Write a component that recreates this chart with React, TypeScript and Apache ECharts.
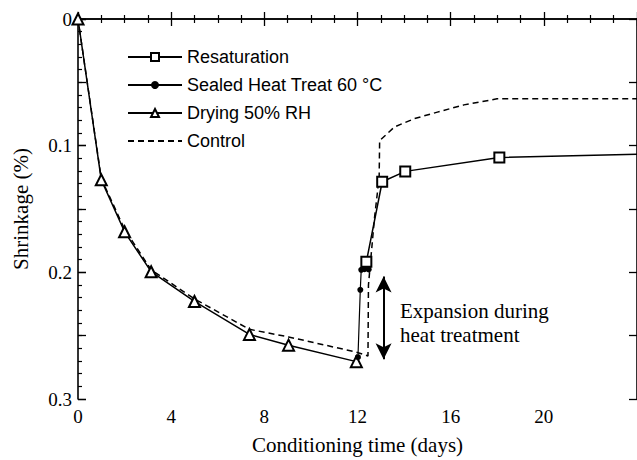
import React, { useEffect, useRef } from "react";
import * as echarts from "echarts";

const dryingDays = [0, 1, 2, 3.14, 5, 7.36, 9.04, 11.95];
const dryingShrink = [0, 0.127, 0.168, 0.1995, 0.223, 0.249, 0.2575, 0.2705];

const sealedDays = [12.02, 12.12, 12.16, 12.3, 12.48];
const sealedShrink = [0.267, 0.2138, 0.198, 0.1975, 0.1977];

const resatDays = [12.38, 13.06, 14.05, 18.09, 24];
const resatShrink = [0.1917, 0.1285, 0.1203, 0.1093, 0.1068];

const controlDays = [0, 1, 2, 3.14, 5, 7.36, 9.04, 11.95, 12.45, 12.47, 12.73, 12.93, 12.95, 13.59, 14.44, 15.43, 16.57, 17.99, 24];
const controlShrink = [0, 0.126, 0.166, 0.198, 0.221, 0.245, 0.251, 0.263, 0.266, 0.21, 0.157, 0.125, 0.096, 0.0852, 0.0787, 0.0735, 0.0678, 0.063, 0.063];

const arrowDay = 13.12;
const arrowFrom = 0.2032;
const arrowTo = 0.2687;

const seriesNames = ["Resaturation", "Sealed Heat Treat 60 °C", "Drying 50% RH", "Control"];
const xTicks = { min: 0, max: 24, step: 4 };
const yTicks = { min: 0, max: 0.3, step: 0.1 };

const serif = '"Liberation Serif", "Times New Roman", serif';
const sans = '"Liberation Sans", Arial, sans-serif';

const zip = (xs: number[], ys: number[]) => xs.map((x, i) => [x, ys[i]]);

export default function App() {
  const ref = useRef<HTMLDivElement>(null);
  useEffect(() => {
    if (!ref.current) return;
    const chart = echarts.init(ref.current, null, { renderer: "svg" });
    const axisLine = { show: true, lineStyle: { color: "#000", width: 1.6 } };
    const resatData: any[] = zip(resatDays, resatShrink).map((v, i) =>
      i === resatDays.length - 1 ? { value: v, symbol: "none" } : v
    );
    chart.setOption({
      animation: false,
      backgroundColor: "#fff",
      grid: { left: 78, top: 19, width: 563, height: 385 },
      legend: {
        orient: "vertical",
        left: 122,
        top: 43,
        itemWidth: 54,
        itemHeight: 10,
        itemGap: 10,
        data: [
          seriesNames[0],
          seriesNames[1],
          seriesNames[2],
          { name: seriesNames[3], itemStyle: { opacity: 0 } },
        ],
        textStyle: { fontFamily: sans, fontSize: 18, color: "#000" },
        selectedMode: false,
      },
      xAxis: [
        {
          type: "value",
          position: "bottom",
          min: xTicks.min,
          max: xTicks.max,
          interval: xTicks.step,
          axisLine,
          axisTick: { show: true, inside: true, length: 7, lineStyle: { color: "#000", width: 1.3 } },
          minorTick: { show: true, splitNumber: 4, length: 4, lineStyle: { color: "#000", width: 1.2 } },
          splitLine: { show: false },
          axisLabel: { showMaxLabel: false, fontFamily: serif, fontSize: 19, color: "#000", margin: 8 },
          name: "Conditioning time (days)",
          nameLocation: "middle",
          nameGap: 35,
          nameTextStyle: { fontFamily: serif, fontSize: 21, color: "#000" },
        },
        {
          type: "value",
          position: "top",
          min: xTicks.min,
          max: xTicks.max,
          interval: xTicks.step,
          axisLine,
          axisTick: { show: true, inside: true, length: 7, lineStyle: { color: "#000", width: 1.3 } },
          minorTick: { show: true, splitNumber: 4, length: 4, lineStyle: { color: "#000", width: 1.2 } },
          splitLine: { show: false },
          axisLabel: { show: false },
        },
      ],
      yAxis: [
        {
          type: "value",
          position: "left",
          inverse: true,
          min: yTicks.min,
          max: yTicks.max,
          interval: yTicks.step,
          axisLine,
          axisTick: { show: true, inside: true, length: 8, lineStyle: { color: "#000", width: 1.3 } },
          minorTick: { show: true, splitNumber: 10, length: 4, lineStyle: { color: "#000", width: 1.2 } },
          splitLine: { show: false },
          axisLabel: { fontFamily: serif, fontSize: 19, color: "#000", margin: 6 },
          name: "Shrinkage (%)",
          nameLocation: "middle",
          nameGap: 47,
          nameTextStyle: { fontFamily: serif, fontSize: 21, color: "#000" },
        },
        {
          type: "value",
          position: "left",
          inverse: true,
          min: 0,
          max: 0.3,
          interval: 0.05,
          axisLine: { show: false },
          axisTick: { show: true, inside: true, length: 8, lineStyle: { color: "#000", width: 1.3 } },
          splitLine: { show: false },
          axisLabel: { show: false },
        },
        {
          type: "value",
          position: "right",
          inverse: true,
          min: 0,
          max: 0.3,
          interval: 0.05,
          axisLine,
          axisTick: { show: true, inside: true, length: 8, lineStyle: { color: "#000", width: 1.3 } },
          splitLine: { show: false },
          axisLabel: { show: false },
        },
      ],
      series: [
        {
          name: seriesNames[0],
          type: "line",
          data: resatData,
          symbol: "emptyRect",
          symbolSize: 10,
          z: 3,
          itemStyle: { color: "#000", borderWidth: 1.3 },
          lineStyle: { color: "#000", width: 1.5 },
        },
        {
          name: seriesNames[1],
          type: "line",
          data: zip(sealedDays, sealedShrink),
          symbol: "circle",
          symbolSize: 6,
          z: 4,
          itemStyle: { color: "#000" },
          lineStyle: { color: "#000", width: 1.2 },
          markLine: {
            silent: true,
            symbol: ["arrow", "arrow"],
            symbolSize: [12, 16],
            label: { show: false },
            lineStyle: { color: "#000", width: 2, type: "solid" },
            data: [[{ coord: [arrowDay, arrowFrom] }, { coord: [arrowDay, arrowTo] }]],
          },
        },
        {
          name: seriesNames[2],
          type: "line",
          data: zip(dryingDays, dryingShrink),
          symbol: "emptyTriangle",
          symbolSize: 11,
          z: 3,
          itemStyle: { color: "#000", borderWidth: 1.3 },
          lineStyle: { color: "#000", width: 1.5 },
        },
        {
          name: seriesNames[3],
          type: "line",
          data: zip(controlDays, controlShrink),
          symbol: "none",
          z: 1,
          itemStyle: { color: "#000" },
          lineStyle: { color: "#000", width: 1.5, type: [6, 4] },
        },
      ],
      graphic: [
        {
          type: "text",
          left: 400,
          top: 299,
          style: {
            text: "Expansion during\nheat treatment",
            font: `21px ${serif}`,
            lineHeight: 24,
            fill: "#000",
          },
        },
      ],
    });
    return () => chart.dispose();
  }, []);
  return (
    <div
      ref={ref}
      style={{ position: "fixed", left: 0, top: 0, width: 637, height: 460, background: "#fff" }}
    />
  );
}
